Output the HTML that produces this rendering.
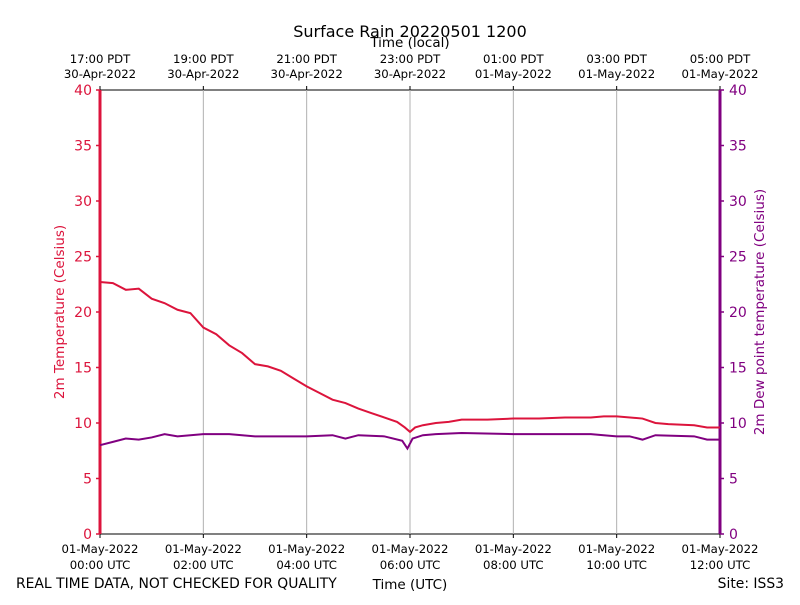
<!DOCTYPE html>
<html><head><meta charset="utf-8"><style>
body{margin:0;background:#fff;}
svg text{font-family:"DejaVu Sans","Liberation Sans",sans-serif;}
</style></head><body>
<svg id="c" width="800" height="600" xmlns="http://www.w3.org/2000/svg"></svg>
<script>
const tempHours=[0,0.25,0.5,0.75,1,1.25,1.5,1.75,2,2.25,2.5,2.75,3,3.25,3.5,3.75,4,4.25,4.5,4.75,5,5.25,5.5,5.75,5.9,6,6.1,6.25,6.5,6.75,7,7.5,8,8.5,9,9.5,9.75,10,10.5,10.75,11,11.5,11.75,12];
const tempValues=[22.7,22.6,22.0,22.1,21.2,20.8,20.2,19.9,18.6,18.0,17.0,16.3,15.3,15.1,14.7,14.0,13.3,12.7,12.1,11.8,11.3,10.9,10.5,10.1,9.6,9.2,9.6,9.8,10.0,10.1,10.3,10.3,10.4,10.4,10.5,10.5,10.6,10.6,10.4,10.0,9.9,9.8,9.6,9.6];
const dewHours=[0,0.25,0.5,0.75,1,1.25,1.5,2,2.5,3,3.5,4,4.5,4.75,5,5.5,5.85,5.95,6.05,6.25,6.5,7,8,9,9.5,10,10.25,10.5,10.75,11.5,11.75,12];
const dewValues=[8.0,8.3,8.6,8.5,8.7,9.0,8.8,9.0,9.0,8.8,8.8,8.8,8.9,8.6,8.9,8.8,8.4,7.7,8.6,8.9,9.0,9.1,9.0,9.0,9.0,8.8,8.8,8.5,8.9,8.8,8.5,8.5];
const yTicks=[0,5,10,15,20,25,30,35,40];
const xTickHours=[0,2,4,6,8,10,12];
const utcLabels=[["01-May-2022","00:00 UTC"],["01-May-2022","02:00 UTC"],["01-May-2022","04:00 UTC"],["01-May-2022","06:00 UTC"],["01-May-2022","08:00 UTC"],["01-May-2022","10:00 UTC"],["01-May-2022","12:00 UTC"]];
const localLabels=[["17:00 PDT","30-Apr-2022"],["19:00 PDT","30-Apr-2022"],["21:00 PDT","30-Apr-2022"],["23:00 PDT","30-Apr-2022"],["01:00 PDT","01-May-2022"],["03:00 PDT","01-May-2022"],["05:00 PDT","01-May-2022"]];

const L=100,R=720,T=90,B=534;
const x=h=>L+(h/12)*(R-L);
const y=v=>B-(v/40)*(B-T);
const svg=document.getElementById('c');
const NS='http://www.w3.org/2000/svg';
function mk(tag,attrs,txt){const e=document.createElementNS(NS,tag);for(const k in attrs)e.setAttribute(k,attrs[k]);if(txt!==undefined)e.textContent=txt;svg.appendChild(e);return e;}

mk('rect',{x:L,y:T,width:R-L,height:B-T,fill:'none',stroke:'#000','stroke-width':1});
xTickHours.forEach((h,i)=>{
  if(h>0&&h<12){const g=mk('line',{x1:x(h),x2:x(h),y1:T,y2:B,stroke:'#b0b0b0','stroke-width':1});
  
  }
  mk('line',{x1:x(h),x2:x(h),y1:B,y2:B+4,stroke:'#000'});
  mk('line',{x1:x(h),x2:x(h),y1:T,y2:T-4,stroke:'#000'});
  const t1=mk('text',{x:x(h),y:553,'font-size':11.7,'text-anchor':'middle'},utcLabels[i][0]);
  
  
  mk('text',{x:x(h),y:569,'font-size':11.7,'text-anchor':'middle'},utcLabels[i][1]);
  const t2=mk('text',{x:x(h),y:63,'font-size':11.7,'text-anchor':'middle'},localLabels[i][0]);
  
  
  mk('text',{x:x(h),y:78,'font-size':11.7,'text-anchor':'middle'},localLabels[i][1]);
});
yTicks.forEach(v=>{
  mk('line',{x1:L-4,x2:L,y1:y(v),y2:y(v),stroke:'#dc143c','stroke-width':1.5});
  const a=mk('text',{x:L-8,y:y(v)+5,'font-size':14,'text-anchor':'end',fill:'#dc143c'},v);
  
  
  mk('line',{x1:R,x2:R+4,y1:y(v),y2:y(v),stroke:'#800080','stroke-width':1.5});
  const b=mk('text',{x:R+9,y:y(v)+5,'font-size':14,'text-anchor':'start',fill:'#800080'},v);
  
  
});
mk('line',{x1:L,x2:L,y1:T,y2:B,stroke:'#dc143c','stroke-width':3});
mk('line',{x1:R,x2:R,y1:T,y2:B,stroke:'#800080','stroke-width':3});

const tp=mk('polyline',{points:tempHours.map((h,i)=>x(h)+','+y(tempValues[i])).join(' '),fill:'none',stroke:'#dc143c','stroke-width':2});


const dp=mk('polyline',{points:dewHours.map((h,i)=>x(h)+','+y(dewValues[i])).join(' '),fill:'none',stroke:'#800080','stroke-width':2});



const tt=mk('text',{x:410,y:37,'font-size':16,'text-anchor':'middle'},'Surface Rain 20220501 1200');


const tl=mk('text',{x:410,y:47,'font-size':13.5,'text-anchor':'middle'},'Time (local)');


const xl=mk('text',{x:410,y:589,'font-size':13.5,'text-anchor':'middle'},'Time (UTC)');


const yl=mk('text',{x:64,y:312,'font-size':13.5,'text-anchor':'middle',fill:'#dc143c',transform:'rotate(-90 64 312)'},'2m Temperature (Celsius)');


const yr=mk('text',{x:764,y:312,'font-size':13.5,'text-anchor':'middle',fill:'#800080',transform:'rotate(-90 764 312)'},'2m Dew point temperature (Celsius)');


const n=mk('text',{x:16,y:588,'font-size':13.9},'REAL TIME DATA, NOT CHECKED FOR QUALITY');


const s=mk('text',{x:784,y:588,'font-size':13.9,'text-anchor':'end'},'Site: ISS3');


</script>
</body></html>
